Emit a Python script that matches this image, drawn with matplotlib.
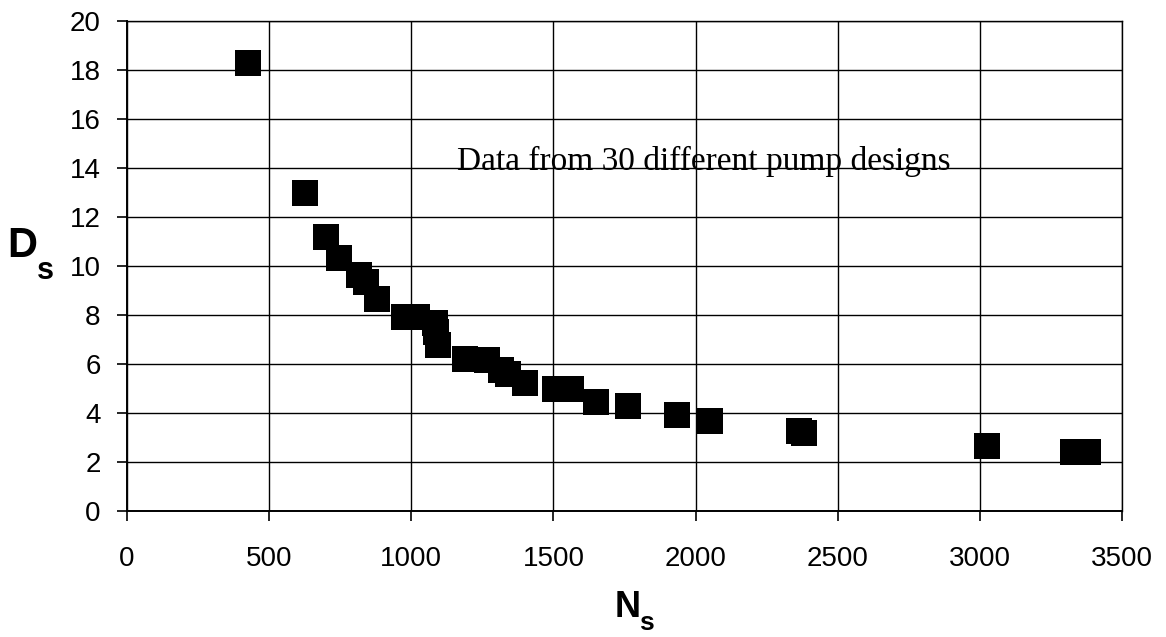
import matplotlib
matplotlib.use("Agg")
import matplotlib.pyplot as plt

# specific speed vs specific diameter
ns = [426, 626, 700, 747, 815, 839, 879, 974, 1021, 1082, 1088, 1094,
      1189, 1266, 1314, 1340, 1400, 1507, 1561, 1651, 1763, 1934, 2052,
      2363, 2380, 3026, 3327, 3380]
ds = [18.27, 12.96, 11.19, 10.34, 9.65, 9.34, 8.64, 7.9, 7.9, 7.68, 7.3, 6.79,
      6.2, 6.15, 5.75, 5.6, 5.22, 4.98, 4.98, 4.46, 4.29, 3.91, 3.69,
      3.28, 3.18, 2.67, 2.39, 2.39]

x_ticks = [0, 500, 1000, 1500, 2000, 2500, 3000, 3500]
y_ticks = [0, 2, 4, 6, 8, 10, 12, 14, 16, 18, 20]
note = "Data from 30 different pump designs"

W, H = 1166, 637
plt.rcParams['font.family'] = ['Liberation Sans', 'DejaVu Sans']

fig = plt.figure(figsize=(W / 100, H / 100), dpi=100)
fig.patch.set_facecolor('white')

# axes box in pixel terms: left 127, right 1122, top 21, bottom 511
ax = fig.add_axes([127 / W, 1 - 511 / H, (1122 - 127) / W, (511 - 21) / H])

ax.plot(ns, ds, linestyle='none', marker='s', markersize=19,
        color='black', markeredgewidth=0, zorder=3)

ax.set_xlim(0, 3500)
ax.set_ylim(0, 20)
ax.set_xticks(x_ticks)
ax.set_yticks(y_ticks)
ax.grid(True, color='black', linewidth=1.0, zorder=1)
ax.set_axisbelow(True)

for side in ['top', 'right']:
    ax.spines[side].set_linewidth(1.0)
for side in ['left', 'bottom']:
    ax.spines[side].set_linewidth(1.4)

ax.tick_params(axis='both', direction='out', length=7, width=1.2,
               colors='black', labelsize=20)
ax.tick_params(axis='x', pad=18)
ax.tick_params(axis='y', pad=12)

ax.text(1160, 13.9, note, family='Liberation Serif', fontsize=24,
        ha='left', va='baseline', color='black', zorder=4)

# axis labels with subscripts, placed like the scan
fig.text(22 / W, 1 - 257 / H, 'D', fontsize=30, fontweight='bold',
         ha='center', va='baseline')
fig.text(45 / W, 1 - 279 / H, 's', fontsize=22, fontweight='bold',
         ha='center', va='baseline')
fig.text(628 / W, 1 - 617 / H, 'N', fontsize=26, fontweight='bold',
         ha='center', va='baseline')
fig.text(646 / W, 1 - 630 / H, 's', fontsize=19, fontweight='bold',
         ha='center', va='baseline')

fig.savefig('out.png', dpi=100, facecolor='white')
plt.close(fig)
